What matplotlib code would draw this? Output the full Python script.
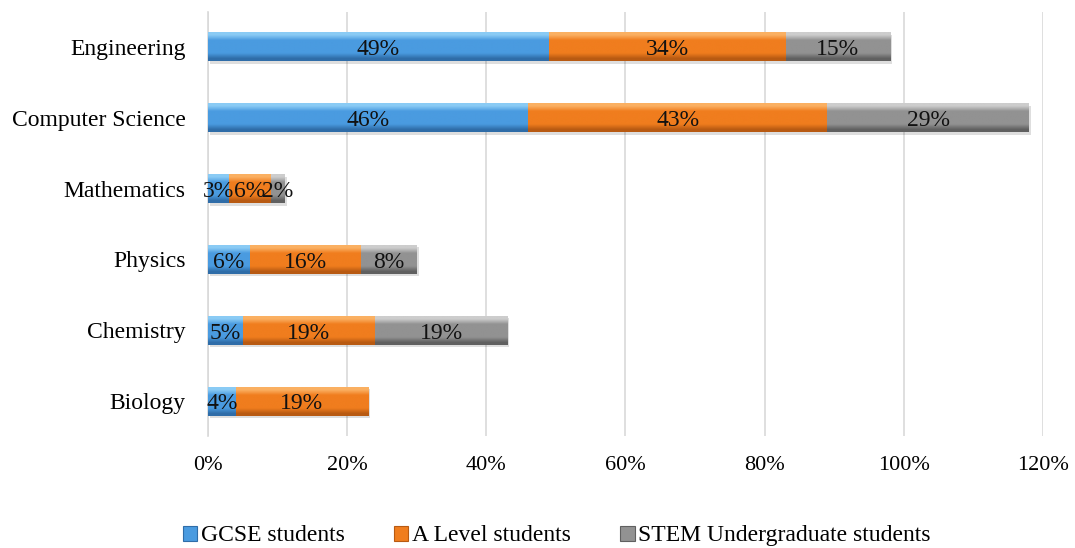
import numpy as np
import matplotlib.pyplot as plt
from matplotlib.patches import Patch
from matplotlib.colors import LinearSegmentedColormap

plt.rcParams['font.family'] = ['Liberation Serif', 'DejaVu Serif']

subjects = ['Biology', 'Chemistry', 'Physics', 'Mathematics', 'Computer Science', 'Engineering']
gcse = [4, 5, 6, 3, 46, 49]
a_level = [19, 19, 16, 6, 43, 34]
stem_ug = [0, 19, 8, 2, 29, 15]
series_names = ['GCSE students', 'A Level students', 'STEM Undergraduate students']
xticks = [0, 20, 40, 60, 80, 100, 120]

# bottom shade, base colour, top highlight for each series
palette = [
    ('#2f6da8', '#4a9be0', '#8acbf5'),
    ('#b85a12', '#f07d1e', '#fbb062'),
    ('#606060', '#929292', '#cdcdcd'),
]

fig = plt.figure(figsize=(10.75, 5.48), dpi=100)
ax = fig.add_axes([0.1935, 0.2035, 0.7767, 0.7755])

y = np.arange(len(subjects))
h = 0.41
grad = np.linspace(0, 1, 64).reshape(-1, 1)
left = np.zeros(len(subjects))
for vals, (lo, base, hi), name in zip([gcse, a_level, stem_ug], palette, series_names):
    vals = np.array(vals, dtype=float)
    cmap = LinearSegmentedColormap.from_list(
        name, [(0, lo), (0.08, lo), (0.26, base), (0.70, base), (0.88, hi), (1, hi)])
    # soft drop shadow
    ax.barh(y - 0.035, vals, height=h, left=left + 0.3, color='#000000', alpha=0.13,
            linewidth=0, zorder=2)
    bars = ax.barh(y, vals, height=h, left=left, color=base, linewidth=0, zorder=3)
    for bar in bars:
        if bar.get_width() <= 0:
            continue
        x0, y0 = bar.get_x(), bar.get_y()
        im = ax.imshow(grad, cmap=cmap, aspect='auto', origin='lower',
                       extent=[x0, x0 + bar.get_width(), y0, y0 + bar.get_height()],
                       zorder=4, interpolation='bilinear')
        im.set_clip_path(bar)
    for yi, l, v in zip(y, left, vals):
        if v > 0:
            ax.text(l + v / 2, yi - 0.04, f'{v:.0f}%', ha='center', va='center',
                    fontsize=17, color='#111111', zorder=6)
    left += vals

ax.set_xlim(0, 120)
ax.set_ylim(-0.5, len(subjects) - 0.5)
ax.set_xticks(xticks)
ax.set_xticklabels([f'{t}%' for t in xticks], fontsize=16)
ax.set_yticks(y)
ax.set_yticklabels(subjects, fontsize=17)
ax.tick_params(length=0)
ax.tick_params(axis='y', pad=16)
ax.tick_params(axis='x', pad=14)
ax.grid(axis='x', color='#d9d9d9', linewidth=1.2, zorder=0)
ax.set_axisbelow(True)
for s in ['top', 'right', 'bottom']:
    ax.spines[s].set_visible(False)
ax.spines['left'].set_color('#d9d9d9')
ax.spines['left'].set_linewidth(1.2)

handles = [Patch(facecolor=c[1], edgecolor=c[0], linewidth=0.8) for c in palette]
fig.legend(handles, series_names, loc='center', bbox_to_anchor=(0.518, 0.022), ncol=3,
           frameon=False, fontsize=17, handlelength=0.6, handleheight=0.6,
           handletextpad=0.15, columnspacing=2.1)

fig.savefig('out.png', dpi=100)
